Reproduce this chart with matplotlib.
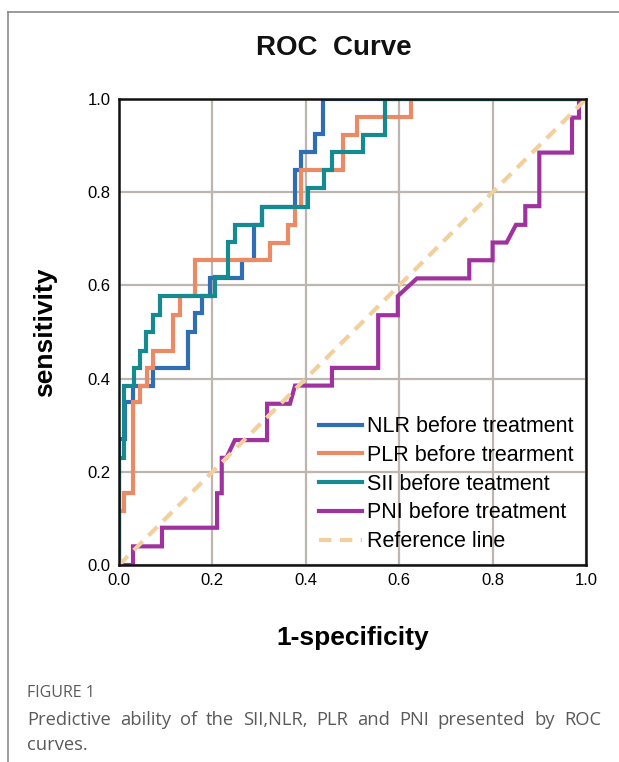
import matplotlib
matplotlib.use("Agg")
import matplotlib.pyplot as plt
from matplotlib.lines import Line2D

# ---------------- data ----------------
nlr_fpr = [0, 0, 0.012, 0.012, 0.03, 0.03, 0.073, 0.073, 0.148, 0.148, 0.163, 0.163, 0.178, 0.178,
           0.195, 0.195, 0.263, 0.263, 0.29, 0.29, 0.306, 0.306, 0.377, 0.377, 0.39, 0.39,
           0.42, 0.42, 0.437, 0.437, 1.0]
nlr_tpr = [0, 0.27, 0.27, 0.35, 0.35, 0.385, 0.385, 0.423, 0.423, 0.5, 0.5, 0.54, 0.54, 0.577,
           0.577, 0.615, 0.615, 0.655, 0.655, 0.73, 0.73, 0.768, 0.768, 0.848, 0.848, 0.886,
           0.886, 0.925, 0.925, 1.0, 1.0]

plr_fpr = [0, 0, 0.01, 0.01, 0.03, 0.03, 0.045, 0.045, 0.06, 0.06, 0.073, 0.073, 0.116, 0.116,
           0.13, 0.13, 0.163, 0.163, 0.323, 0.323, 0.362, 0.362, 0.377, 0.377, 0.39, 0.39,
           0.48, 0.48, 0.51, 0.51, 0.625, 0.625, 1.0]
plr_tpr = [0, 0.115, 0.115, 0.154, 0.154, 0.35, 0.35, 0.385, 0.385, 0.423, 0.423, 0.46, 0.46, 0.536,
           0.536, 0.577, 0.577, 0.655, 0.655, 0.69, 0.69, 0.73, 0.73, 0.768, 0.768, 0.848,
           0.848, 0.923, 0.923, 0.962, 0.962, 1.0, 1.0]

sii_fpr = [0, 0, 0.01, 0.01, 0.032, 0.032, 0.045, 0.045, 0.058, 0.058, 0.073, 0.073, 0.088, 0.088,
           0.205, 0.205, 0.234, 0.234, 0.248, 0.248, 0.306, 0.306, 0.405, 0.405, 0.44, 0.44,
           0.456, 0.456, 0.523, 0.523, 0.57, 0.57, 1.0]
sii_tpr = [0, 0.23, 0.23, 0.385, 0.385, 0.423, 0.423, 0.46, 0.46, 0.5, 0.5, 0.537, 0.537, 0.577,
           0.577, 0.618, 0.618, 0.693, 0.693, 0.73, 0.73, 0.768, 0.768, 0.81, 0.81, 0.848,
           0.848, 0.886, 0.886, 0.923, 0.923, 1.0, 1.0]

pni_fpr = [0, 0.03, 0.03, 0.092, 0.092, 0.21, 0.21, 0.22, 0.22, 0.23, 0.248, 0.317, 0.317, 0.366,
           0.377, 0.456, 0.456, 0.555, 0.555, 0.597, 0.597, 0.638, 0.75, 0.75, 0.8, 0.8, 0.83,
           0.85, 0.87, 0.87, 0.9, 0.9, 0.97, 0.97, 0.985, 0.985, 1.0]
pni_tpr = [0, 0, 0.04, 0.04, 0.08, 0.08, 0.154, 0.154, 0.23, 0.23, 0.268, 0.268, 0.346, 0.346,
           0.385, 0.385, 0.423, 0.423, 0.536, 0.536, 0.577, 0.615, 0.615, 0.654, 0.654, 0.692,
           0.692, 0.73, 0.73, 0.77, 0.77, 0.885, 0.885, 0.96, 0.96, 1.0, 1.0]

ref_x = [0, 1]
ref_y = [0, 1]

labels = ["NLR before treatment", "PLR before trearment", "SII before teatment",
          "PNI before treatment", "Reference line"]
ticks = [0.0, 0.2, 0.4, 0.6, 0.8, 1.0]
tick_labels = ["0.0", "0.2", "0.4", "0.6", "0.8", "1.0"]

caption_head = "FIGURE 1"
caption_line1 = "Predictive ability of the SII,NLR, PLR and PNI presented by ROC"
caption_line2 = "curves."

# ---------------- figure ----------------
W, H = 619, 762
fig = plt.figure(figsize=(W / 100, H / 100), dpi=100)
fig.patch.set_facecolor("white")

# outer panel frame (top and left edges)
fig.add_artist(Line2D([8 / W, 1.0], [1 - 12 / H, 1 - 12 / H], color="#8a8a8a", lw=1.2))
fig.add_artist(Line2D([8 / W, 8 / W], [0.0, 1 - 12 / H], color="#8a8a8a", lw=1.2))

ax = fig.add_axes([119 / W, 1 - 565 / H, (586 - 119) / W, (565 - 99) / H])
ax.set_xlim(0, 1)
ax.set_ylim(0, 1)
ax.set_xticks(ticks)
ax.set_yticks(ticks)
ax.set_xticklabels(tick_labels)
ax.set_yticklabels(tick_labels)
ax.grid(True, color="#bdb5ae", lw=1.6)
ax.set_axisbelow(True)
for s in ax.spines.values():
    s.set_linewidth(1.8)
    s.set_color("#111111")
ax.tick_params(length=0, labelsize=12, pad=6)
for lab in ax.get_xticklabels() + ax.get_yticklabels():
    lab.set_fontfamily("Liberation Sans")

lw = 3.0
ax.plot(nlr_fpr, nlr_tpr, color="#2f6db5", lw=lw, label=labels[0], solid_joinstyle="miter")
ax.plot(plr_fpr, plr_tpr, color="#ec8a65", lw=lw, label=labels[1], solid_joinstyle="miter")
ax.plot(sii_fpr, sii_tpr, color="#168a91", lw=lw, label=labels[2], solid_joinstyle="miter")
ax.plot(pni_fpr, pni_tpr, color="#a0329f", lw=lw, label=labels[3], solid_joinstyle="miter")
ax.plot(ref_x, ref_y, color="#f2cf9c", lw=3.0, ls=(0, (3, 2)), label=labels[4])

leg = ax.legend(loc="lower right", bbox_to_anchor=(1.0, 0.0), frameon=False,
                prop={"family": "Liberation Sans", "size": 15.5},
                handlelength=2.0, handletextpad=0.2, labelspacing=0.36,
                borderaxespad=0.2)

ax.set_xlabel("1-specificity", fontsize=19, fontweight="bold", family="Liberation Sans",
              labelpad=27)
ax.set_ylabel("sensitivity", fontsize=19, fontweight="bold", family="Liberation Sans",
              labelpad=22)

fig.text(334 / W, 1 - 48 / H, "ROC  Curve", ha="center", va="center", fontsize=20,
         fontweight="bold", family="Liberation Sans", color="#111111")

# caption
cap_color = "#5a5a5a"
fig.text(27 / W, 1 - 693 / H, caption_head, ha="left", va="center", fontsize=11.5,
         family="Open Sans", color=cap_color)

# justified first line
fig.canvas.draw()
renderer = fig.canvas.get_renderer()
words = caption_line1.split(" ")
x0, x1 = 27, 601
y1 = 1 - 720 / H
fs = 13.2
arts = [fig.text(0, y1, w, ha="left", va="center", fontsize=fs, family="Open Sans",
                 color=cap_color) for w in words]
widths = [a.get_window_extent(renderer).width for a in arts]
gap = (x1 - x0 - sum(widths)) / (len(words) - 1)
x = x0
for a, wdt in zip(arts, widths):
    a.set_x(x / W)
    x += wdt + gap
fig.text(27 / W, 1 - 745 / H, caption_line2, ha="left", va="center", fontsize=fs,
         family="Open Sans", color=cap_color)

fig.savefig("out.png", dpi=100)
